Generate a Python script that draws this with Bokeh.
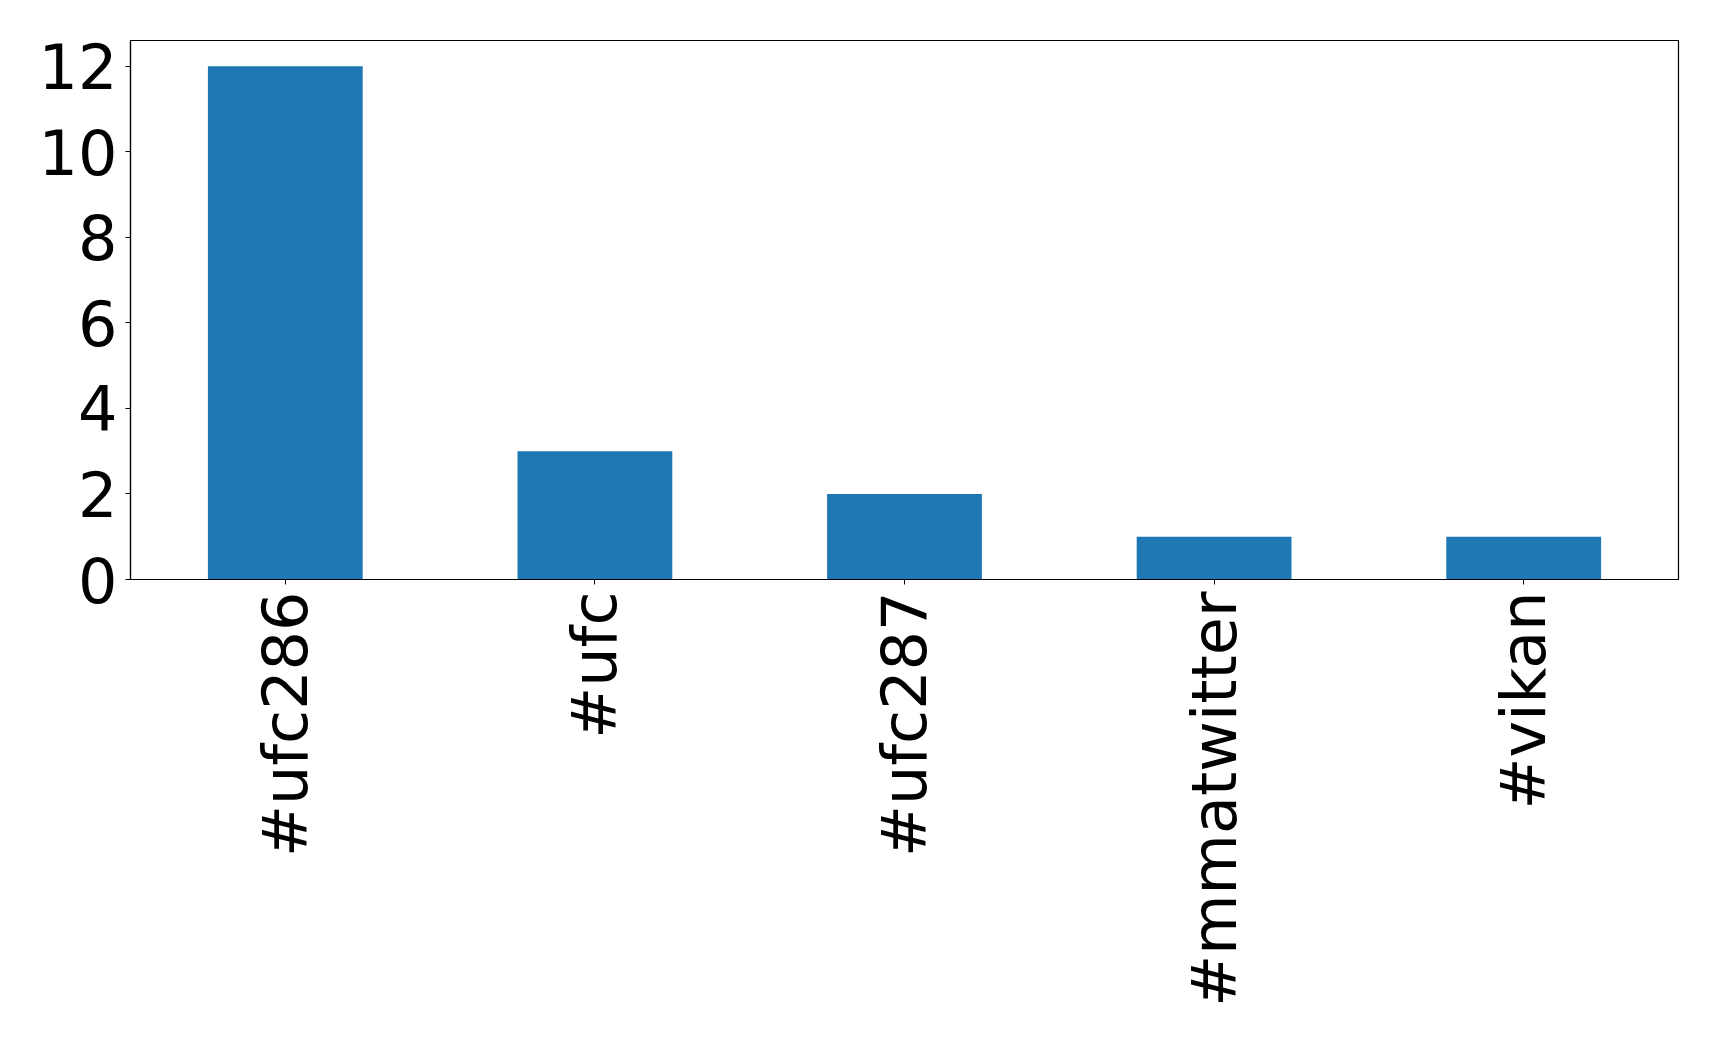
import math
from bokeh.plotting import figure
from bokeh.models import FactorRange, Range1d, FixedTicker
from bokeh.embed import file_html
from bokeh.resources import INLINE

hashtags = ["#ufc286", "#ufc", "#ufc287", "#mmatwitter", "#vikan"]
counts = [12, 3, 2, 1, 1]
y_ticks = [0, 2, 4, 6, 8, 10, 12]

p = figure(width=1703, height=1031, output_backend="svg", toolbar_location=None,
           x_range=FactorRange(factors=hashtags, range_padding=0),
           y_range=Range1d(0, 12.6),
           min_border_left=130, min_border_right=25, min_border_top=40, min_border_bottom=452)

p.vbar(x=hashtags, top=counts, width=0.5, color="#1f77b4", line_color=None)

p.xgrid.visible = False
p.ygrid.visible = False
p.outline_line_color = "black"
p.outline_line_width = 1.2
p.background_fill_color = "white"
p.border_fill_color = "white"

for ax in (p.xaxis[0], p.yaxis[0]):
    ax.axis_line_color = "black"
    ax.axis_line_width = 1.2
    ax.major_tick_line_color = "black"
    ax.major_tick_in = 0
    ax.major_tick_out = 5
    ax.minor_tick_line_color = None
    ax.major_label_text_font = "DejaVu Sans"
    ax.major_label_text_font_size = "62px"
    ax.major_label_text_color = "black"

p.yaxis[0].ticker = FixedTicker(ticks=y_ticks)
p.yaxis[0].major_label_standoff = 8
p.xaxis[0].major_label_orientation = math.pi / 2
p.xaxis[0].major_label_standoff = 7

open("out.html", "w").write(file_html(p, INLINE))
